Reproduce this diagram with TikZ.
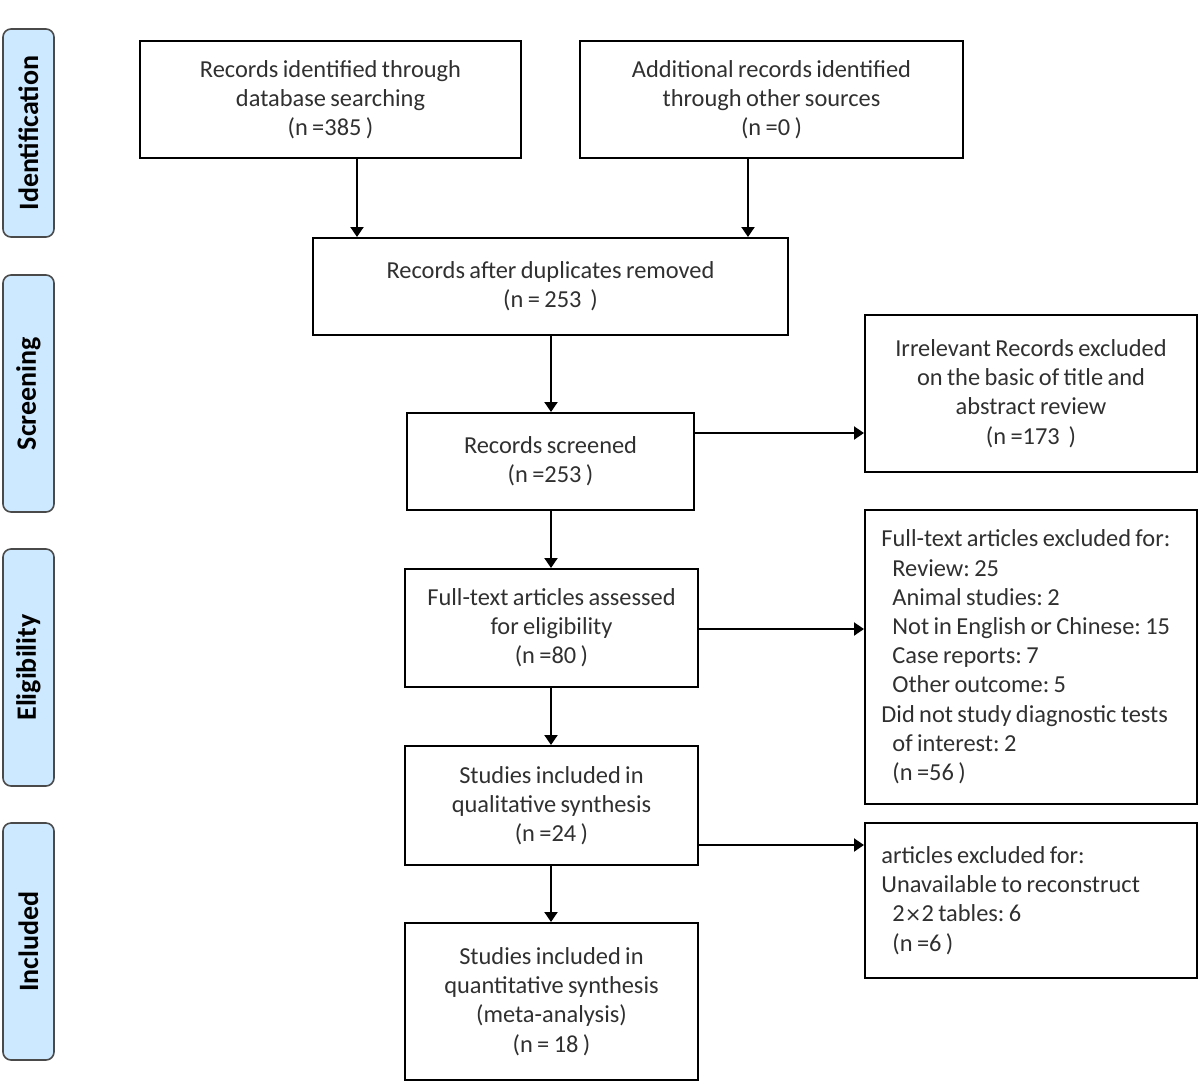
\documentclass[tikz,border=0pt]{standalone}
\usepackage{fontspec}
\setmainfont{Carlito}[WordSpace=0.8]
\usetikzlibrary{arrows.meta}
\definecolor{txtgray}{HTML}{303030}
\definecolor{sidefill}{HTML}{CDE9FF}
\definecolor{sidedraw}{HTML}{4A4A4A}
\frenchspacing
\tikzset{
  pbox/.style 2 args={draw=black, line width=1pt, minimum width=#1, minimum height=#2,
    inner sep=0pt, align=center, text=txtgray,
    font=\fontsize{12.2pt}{14.6pt}\selectfont},
  ltext/.style={inner sep=0pt, align=left, text=txtgray, anchor=west,
    font=\fontsize{12.2pt}{14.6pt}\selectfont},
  side/.style={draw=sidedraw, line width=0.8pt, fill=sidefill, rounded corners=4pt,
    rotate=90, minimum height=25.5pt, inner sep=0pt, text=black,
    font=\fontsize{14pt}{16pt}\selectfont\bfseries},
  arr/.style={line width=1pt, -{Triangle[length=5pt,width=6.5pt]}}
}
\begin{document}
\begin{tikzpicture}[x=0.5pt,y=-0.5pt]
\useasboundingbox (0,0) rectangle (1200,1083);
% side labels
\node[side, minimum width=104pt] (sid) at (28.5,133) {Identification};
\node[side, minimum width=118.5pt] (ssc) at (28.5,393.5) {Screening};
\node[side, minimum width=118.5pt] (sel) at (28.5,667.5) {Eligibility};
\node[side, minimum width=118.5pt] (sin) at (28.5,941.5) {Included};
% main boxes
\node[pbox={190.5pt}{58.5pt}] (b1) at (330.5,99.5)
  {Records identified through\\database searching\\(n =385 )};
\node[pbox={191.5pt}{58.5pt}] (b2) at (771.5,99.5)
  {Additional records identified\\through other sources\\(n =0 )};
\node[pbox={237.5pt}{48.5pt}] (b3) at (550.5,286.5)
  {Records after duplicates removed\\(n = 253~~)};
\node[pbox={143.5pt}{48.5pt}] (b4) at (550.5,461.5)
  {Records screened\\(n =253 )};
\node[pbox={166pt}{78.5pt}] (b5) at (1031,393.5)
  {Irrelevant Records excluded\\on the basic of title and\\abstract review\\(n =173~~)};
\node[pbox={146.5pt}{59pt}] (b6) at (551.5,628)
  {Full-text articles assessed\\for eligibility\\(n =80 )};
\node[pbox={166pt}{147pt}] (b7) at (1031,657) {};
\node[ltext] (t7) at ([xshift=8.5pt]b7.west)
  {Full-text articles excluded for:\\
   \hspace*{5.5pt}Review: 25\\
   \hspace*{5.5pt}Animal studies: 2\\
   \hspace*{5.5pt}Not in English or Chinese: 15\\
   \hspace*{5.5pt}Case reports: 7\\
   \hspace*{5.5pt}Other outcome: 5\\
   Did not study diagnostic tests\\
   \hspace*{5.5pt}of interest: 2\\
   \hspace*{5.5pt}(n =56 )};
\node[pbox={146.5pt}{59.5pt}] (b8) at (551.5,805.5)
  {Studies included in\\qualitative synthesis\\(n =24 )};
\node[pbox={166pt}{77.5pt}] (b9) at (1031,900.5) {};
\node[ltext] (t9) at ([xshift=8.5pt]b9.west)
  {articles excluded for:\\
   Unavailable to reconstruct\\
   \hspace*{5.5pt}2{\fontspec{DejaVu Sans}\fontsize{10pt}{10pt}\selectfont ×}2 tables: 6\\
   \hspace*{5.5pt}(n =6 )};
\node[pbox={146.5pt}{78.5pt}] (b10) at (551.5,1001.5)
  {Studies included in\\quantitative synthesis\\(meta-analysis)\\(n = 18 )};
% connectors
\draw[arr] (b1.south -| 357,0) -- (b3.north -| 357,0);
\draw[arr] (b2.south -| 748,0) -- (b3.north -| 748,0);
\draw[arr] (b3.south -| 551,0) -- (b4.north -| 551,0);
\draw[arr] (b4.south -| 551,0) -- (b6.north -| 551,0);
\draw[arr] (b6.south -| 551,0) -- (b8.north -| 551,0);
\draw[arr] (b8.south -| 551,0) -- (b10.north -| 551,0);
\draw[arr] (b4.east |- 0,433) -- (b5.west |- 0,433);
\draw[arr] (b6.east |- 0,629) -- (b7.west |- 0,629);
\draw[arr] (b8.east |- 0,845) -- (b9.west |- 0,845);
\end{tikzpicture}
\end{document}
